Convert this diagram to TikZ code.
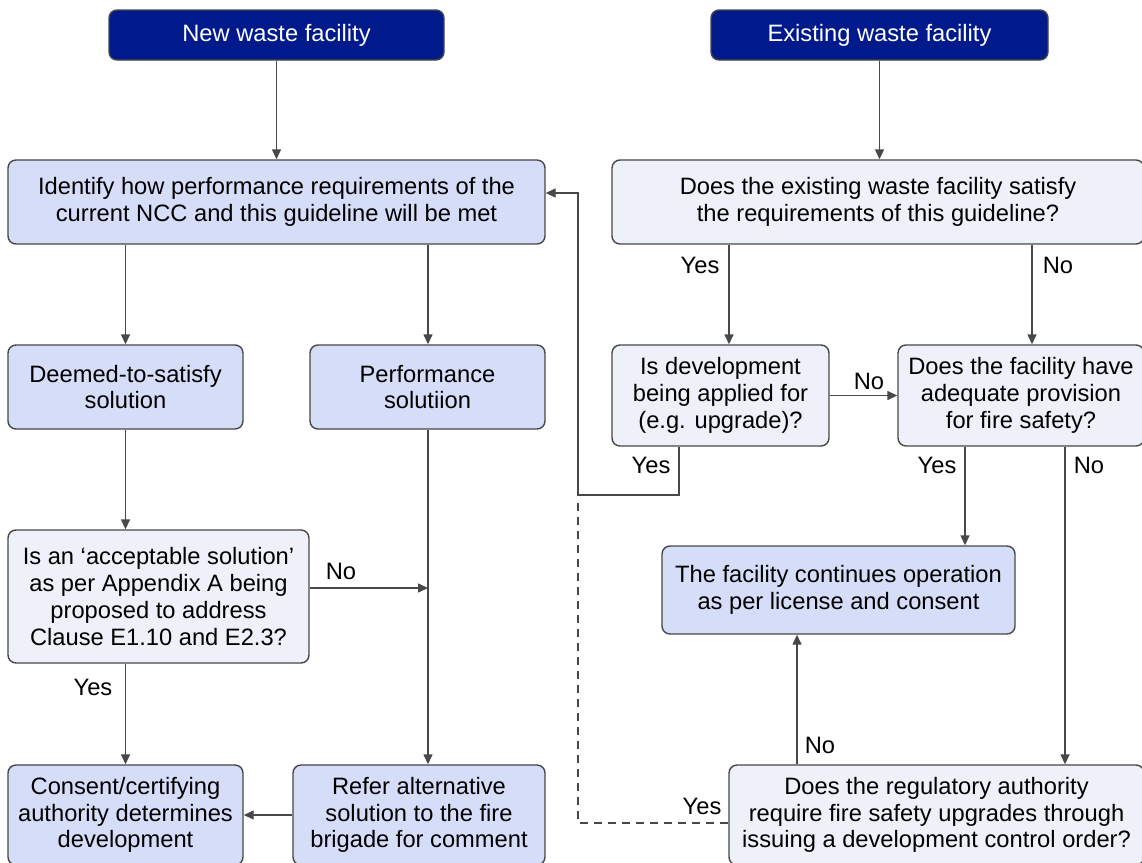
\documentclass[tikz,border=0pt]{standalone}
\usepackage{fontspec}
\setmainfont{Liberation Sans}
\usetikzlibrary{arrows.meta}
\definecolor{navy}{HTML}{001A8C}
\definecolor{boxA}{HTML}{D6DDF8}
\definecolor{boxB}{HTML}{EEF1FA}
\definecolor{edge}{HTML}{484848}
\tikzset{
 base/.style={draw=edge, line width=1.4pt, rounded corners=8pt, align=center, inner sep=0pt, font=\fontsize{23.7}{26.8}\selectfont},
 head/.style={base, fill=navy, text=white},
 boxa/.style={base, fill=boxA},
 boxb/.style={base, fill=boxB},
 conn/.style={draw=edge, line width=1.4pt, -{Triangle[length=10pt,width=9pt]}},
 plain/.style={draw=edge, line width=1.4pt},
 lbl/.style={font=\fontsize{23.7}{26}\selectfont, inner sep=0pt}
}
\begin{document}
\begin{tikzpicture}[x=1pt,y=-1pt]
\useasboundingbox[fill=white] (0,0) rectangle (1142,862);
% nodes
\node[head, minimum width=335pt, minimum height=50pt] (new) at (276.5,35) {New waste facility};
\node[head, minimum width=337pt, minimum height=50pt] (exist) at (879.5,35) {Existing waste facility};
\node[boxa, minimum width=537pt, minimum height=84pt] (ident) at (276.5,202) {Identify how performance requirements of the\\current NCC and this guideline will be met};
\node[boxb, minimum width=532pt, minimum height=84pt] (doesex) at (878,202) {Does the existing waste facility satisfy\\the requirements of this guideline?};
\node[boxa, minimum width=235pt, minimum height=84pt] (deemed) at (125.5,387) {Deemed-to-satisfy\\solution};
\node[boxa, minimum width=235pt, minimum height=84pt] (perf) at (427.5,387) {Performance\\solutiion};
\node[boxb, minimum width=217pt, minimum height=101pt] (isdev) at (720.5,395.5) {Is development\\being applied for\\(e.g. upgrade)?};
\node[boxb, minimum width=246pt, minimum height=101pt] (adeq) at (1021,395.5) {Does the facility have\\adequate provision\\for fire safety?};
\node[boxb, minimum width=301pt, minimum height=133pt] (accept) at (158.5,596.5) {Is an ‘acceptable solution’\\as per Appendix A being\\proposed to address\\Clause E1.10 and E2.3?};
\node[boxa, minimum width=353pt, minimum height=88pt] (cont) at (838.5,590) {The facility continues operation\\as per license and consent};
\node[boxa, minimum width=235pt, minimum height=100pt] (consent) at (125.5,815) {Consent/certifying\\authority determines\\development};
\node[boxa, minimum width=252pt, minimum height=100pt] (refer) at (419,815) {Refer alternative\\solution to the fire\\brigade for comment};
\node[boxb, minimum width=415pt, minimum height=100pt] (reg) at (936.5,815) {Does the regulatory authority\\require fire safety upgrades through\\issuing a development control order?};
% helper coordinates
\coordinate (xa) at (729,0);
\coordinate (xb) at (1032,0);
\coordinate (xc) at (679,0);
\coordinate (xd) at (965,0);
\coordinate (xe) at (1065,0);
\coordinate (xf) at (797,0);
\coordinate (xg) at (428,0);
\coordinate (j1) at (679,495);
\coordinate (j2) at (578,495);
\coordinate (j3) at (578,193);
\coordinate (j4) at (578,823);
\coordinate (j5) at (578,503);
\coordinate (noj) at (428,588);
% connectors
\draw[conn] (new.south) -- (new.south |- ident.north);
\draw[conn] (exist.south) -- (exist.south |- doesex.north);
\draw[conn] (deemed.north |- ident.south) -- (deemed.north);
\draw[conn] (xg |- ident.south) -- (xg |- perf.north);
\draw[conn] (deemed.south) -- (accept.north -| deemed.south);
\draw[conn] (xg |- perf.south) -- (xg |- refer.north);
\draw[conn] (accept.east |- noj) -- (noj);
\draw[conn] (consent.north |- accept.south) -- (consent.north);
\draw[conn] (refer.west) -- (consent.east);
\draw[conn] (xa |- doesex.south) -- (xa |- isdev.north);
\draw[conn] (xb |- doesex.south) -- (xb |- adeq.north);
\draw[conn] (isdev.east) -- (adeq.west);
\draw[conn] (xc |- isdev.south) -- (j1) -- (j2) -- (j3) -- (ident.east |- j3);
\draw[conn] (xd |- adeq.south) -- (xd |- cont.north);
\draw[conn] (xe |- adeq.south) -- (xe |- reg.north);
\draw[conn] (xf |- reg.north) -- (xf |- cont.south);
\draw[plain, dashed, dash pattern=on 8pt off 6pt] (reg.west |- j4) -- (j4) -- (j5);
% labels
\node[lbl] (l1) at (700,265) {Yes};
\node[lbl] (l2) at (1058,265) {No};
\node[lbl] (l3) at (869,381) {No};
\node[lbl] (l4) at (651,465) {Yes};
\node[lbl] (l5) at (937,465) {Yes};
\node[lbl] (l6) at (1089,465) {No};
\node[lbl] (l7) at (341,571) {No};
\node[lbl] (l8) at (93,687) {Yes};
\node[lbl] (l9) at (820,745) {No};
\node[lbl] (l10) at (702,806) {Yes};
\end{tikzpicture}
\end{document}
